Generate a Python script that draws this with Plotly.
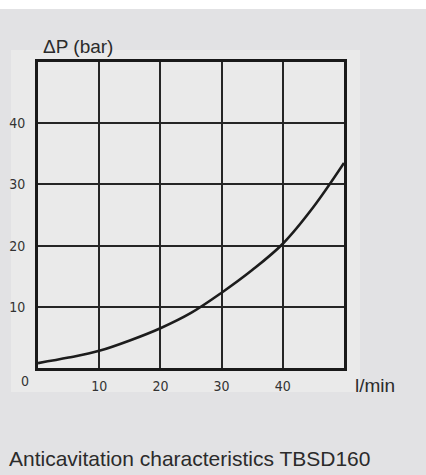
import plotly.graph_objects as go

# Data
flow = [0, 5, 10, 15, 20, 25, 30, 35, 40, 45, 50]          # l/min
dp = [0.8, 1.7, 2.8, 4.5, 6.5, 9.0, 12.3, 16.0, 20.3, 26.3, 33.5]  # bar
x_ticks = [10, 20, 30, 40]
y_ticks = [10, 20, 30, 40]
x_ticktext = ["10", "20", "30", "40"]
y_ticktext = ["10", "20", "30", "40"]

W, H = 426, 475
L, R, T, B = 38, 82, 62, 107
pw, ph = W - L - R, H - T - B

def px_to_paper_x(px):
    return (px - L) / pw

def px_to_paper_y(py):
    return (H - B - py) / ph

tick_font = dict(family="DejaVu Sans Condensed, Liberation Sans Narrow, Arial Narrow, sans-serif",
                 size=14, color="#333333")

fig = go.Figure()
fig.add_trace(go.Scatter(x=flow, y=dp, mode="lines", line=dict(color="#1c1c1c", width=2.6, shape="spline"),
                         hoverinfo="skip", showlegend=False))

fig.update_layout(
    width=W, height=H,
    margin=dict(l=L, r=R, t=T, b=B, autoexpand=False),
    paper_bgcolor="#e2e2e4",
    plot_bgcolor="#ececec",
    showlegend=False,
    xaxis=dict(range=[0, 50], tickvals=x_ticks, ticktext=x_ticktext,
               showgrid=True, gridcolor="#262626", gridwidth=2,
               showline=True, linecolor="#1a1a1a", linewidth=3, mirror=True,
               ticks="outside", ticklen=3, tickcolor="rgba(0,0,0,0)", automargin=False,
               tickfont=tick_font, zeroline=False, fixedrange=True),
    yaxis=dict(range=[0, 50], tickvals=y_ticks, ticktext=y_ticktext,
               showgrid=True, gridcolor="#262626", gridwidth=2,
               showline=True, linecolor="#1a1a1a", linewidth=3, mirror=True,
               ticks="outside", ticklen=7, tickcolor="rgba(0,0,0,0)", automargin=False,
               tickfont=tick_font, zeroline=False, fixedrange=True),
    shapes=[
        dict(type="rect", xref="paper", yref="paper",
             x0=px_to_paper_x(11), x1=px_to_paper_x(360),
             y0=px_to_paper_y(392), y1=px_to_paper_y(50),
             fillcolor="#eaeaea", line=dict(width=0), layer="below"),
        dict(type="rect", xref="paper", yref="paper",
             x0=px_to_paper_x(0), x1=px_to_paper_x(W),
             y0=px_to_paper_y(9), y1=px_to_paper_y(0),
             fillcolor="#ffffff", line=dict(width=0), layer="below"),
    ],
    annotations=[
        dict(text="ΔP (bar)", xref="paper", yref="paper",
             x=px_to_paper_x(41), y=px_to_paper_y(47), xanchor="left", yanchor="middle",
             showarrow=False, font=dict(family="Liberation Sans, Arial, sans-serif", size=19, color="#2b2b2b")),
        dict(text="l/min", xref="paper", yref="paper",
             x=px_to_paper_x(353), y=px_to_paper_y(385), xanchor="left", yanchor="middle",
             showarrow=False, font=dict(family="Liberation Sans, Arial, sans-serif", size=19, color="#2b2b2b")),
        dict(text="0", xref="paper", yref="paper",
             x=px_to_paper_x(25), y=px_to_paper_y(381), xanchor="center", yanchor="middle",
             showarrow=False, font=tick_font),
        dict(text="Anticavitation characteristics TBSD160", xref="paper", yref="paper",
             x=px_to_paper_x(7), y=px_to_paper_y(458), xanchor="left", yanchor="middle",
             showarrow=False, font=dict(family="Liberation Sans, Arial, sans-serif", size=21, color="#2b2b2b")),
    ],
)

fig.write_html("out.html", config={"displayModeBar": False},
               post_script="document.body.style.margin='0';document.body.style.padding='0';")
